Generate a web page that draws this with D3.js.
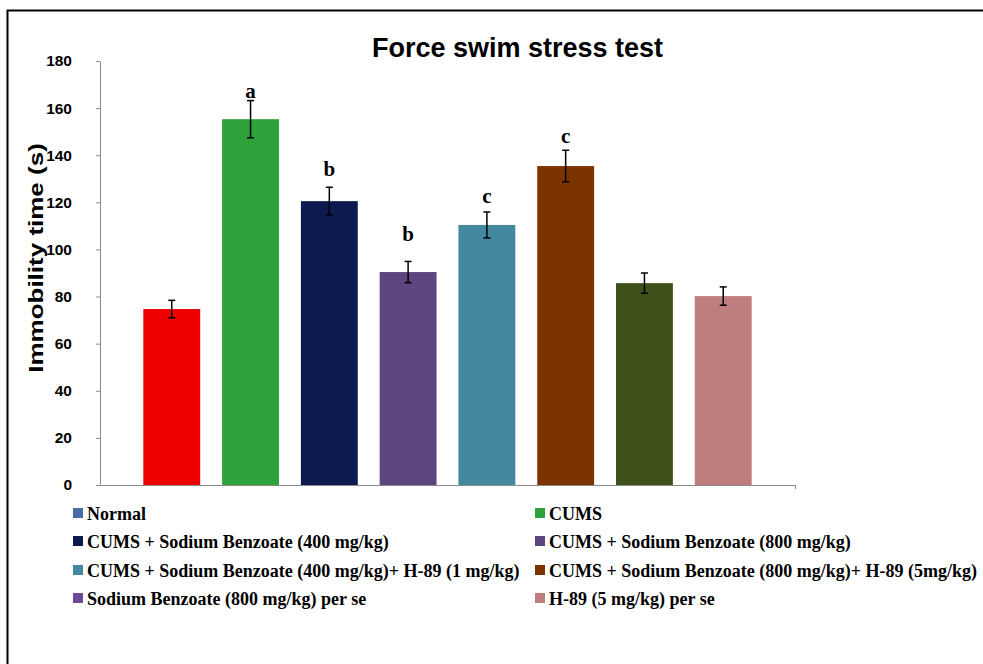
<!DOCTYPE html>
<html>
<head>
<meta charset="utf-8">
<script src="https://cdn.jsdelivr.net/npm/d3@7"></script>
<style>
  html, body { margin: 0; padding: 0; background: #fff; }
  svg { display: block; }
</style>
</head>
<body>
<svg id="chart" width="983" height="664"></svg>
<script>
// Forced swim test: mean immobility time per group, with SEM and significance letters
const groups = [
  "Normal",
  "CUMS",
  "CUMS + Sodium Benzoate (400 mg/kg)",
  "CUMS + Sodium Benzoate (800 mg/kg)",
  "CUMS + Sodium Benzoate (400 mg/kg)+ H-89 (1 mg/kg)",
  "CUMS + Sodium Benzoate (800 mg/kg)+ H-89 (5mg/kg)",
  "Sodium Benzoate (800 mg/kg) per se",
  "H-89 (5 mg/kg) per se"
];
const immobility = [74.7, 155.3, 120.5, 90.4, 110.4, 135.4, 85.7, 80.2];
const sem = [3.7, 7.9, 5.9, 4.5, 5.5, 6.7, 4.3, 3.9];
const sigLetters = ["", "a", "b", "b", "c", "c", "", ""];
// height (in seconds) at which each significance letter sits
const letterAt = [null, 167.5, 134.5, 106.5, 123, 148.5, null, null];
const yTicks = [0, 20, 40, 60, 80, 100, 120, 140, 160, 180];

const barColors = ["#ee0000", "#30a23c", "#0d1a4f", "#5d467e", "#4488a0", "#7b3300", "#3e511b", "#bf7e7e"];
const legendColors = ["#4a6ca6", "#30a23c", "#0d1a4f", "#5d467e", "#4488a0", "#7b3300", "#6a4a98", "#bf7e7e"];

const svg = d3.select("#chart");

// outer frame
svg.append("path")
  .attr("d", "M7.5,670 V10.5 H990")
  .attr("fill", "none")
  .attr("stroke", "#000")
  .attr("stroke-width", 2);

const y = d3.scaleLinear().domain([0, 180]).range([485, 61]);
const x = d3.scaleBand().domain(groups).range([100, 795]).paddingInner(0.278).paddingOuter(0.55);

// y axis
const yAxis = svg.append("g")
  .attr("transform", "translate(100,0)")
  .call(d3.axisLeft(y).tickValues(yTicks).tickSize(4).tickSizeOuter(0).tickPadding(24));
yAxis.select(".domain").attr("stroke", "#8a8a8a");
yAxis.selectAll(".tick line").attr("stroke", "#8a8a8a");
yAxis.selectAll(".tick text")
  .attr("font-family", "'Liberation Sans', Arial, sans-serif")
  .attr("font-weight", "bold")
  .attr("font-size", "15.5px")
  .attr("fill", "#000");

// x axis baseline with the closing tick at the right end
const xEdge = d3.scaleLinear().domain([0, 1]).range([100, 795]);
const xAxis = svg.append("g")
  .attr("transform", "translate(0,485)")
  .call(d3.axisBottom(xEdge).tickValues([1]).tickSize(4).tickSizeOuter(0).tickFormat(""));
xAxis.select(".domain").attr("stroke", "#8a8a8a");
xAxis.selectAll(".tick line").attr("stroke", "#8a8a8a");

// bars
svg.append("g").selectAll("rect")
  .data(groups)
  .join("rect")
  .attr("x", d => x(d))
  .attr("width", x.bandwidth())
  .attr("y", (d, i) => y(immobility[i]))
  .attr("height", (d, i) => y(0) - y(immobility[i]))
  .attr("fill", (d, i) => barColors[i]);

// error bars
const err = svg.append("g").attr("stroke", "#000").attr("stroke-width", 1.5).attr("fill", "none");
groups.forEach((g, i) => {
  const cx = x(g) + x.bandwidth() / 2;
  const hi = y(immobility[i] + sem[i]);
  const lo = y(immobility[i] - sem[i]);
  err.append("line").attr("x1", cx).attr("x2", cx).attr("y1", hi).attr("y2", lo);
  err.append("line").attr("x1", cx - 3.5).attr("x2", cx + 3.5).attr("y1", hi).attr("y2", hi);
  err.append("line").attr("x1", cx - 3.5).attr("x2", cx + 3.5).attr("y1", lo).attr("y2", lo);
});

// significance letters
svg.append("g").selectAll("text")
  .data(groups.filter((g, i) => sigLetters[i]))
  .join("text")
  .attr("x", d => x(d) + x.bandwidth() / 2)
  .attr("y", d => y(letterAt[groups.indexOf(d)]))
  .attr("dy", "0.35em")
  .attr("text-anchor", "middle")
  .attr("font-family", "'Liberation Serif', 'Times New Roman', serif")
  .attr("font-weight", "bold")
  .attr("font-size", "21px")
  .text(d => sigLetters[groups.indexOf(d)]);

// title
svg.append("text")
  .attr("x", 517.5)
  .attr("y", 57)
  .attr("text-anchor", "middle")
  .attr("font-family", "'Liberation Sans', Arial, sans-serif")
  .attr("font-weight", "bold")
  .attr("font-size", "27px")
  .text("Force swim stress test");

// y axis title (drawn tall and narrow)
svg.append("text")
  .attr("transform", "translate(43,258) rotate(-90) scale(1.3,1)")
  .attr("text-anchor", "middle")
  .attr("font-family", "'Liberation Sans', Arial, sans-serif")
  .attr("font-weight", "bold")
  .attr("font-size", "20px")
  .text("Immobility time (s)");

// legend: two columns, four rows
const legendCols = [73, 535];
const legendRows = [520, 548, 577, 605];
const legend = svg.append("g");
groups.forEach((g, i) => {
  const lx = legendCols[i % 2];
  const ly = legendRows[Math.floor(i / 2)];
  legend.append("rect")
    .attr("x", lx).attr("y", ly - 12)
    .attr("width", 10).attr("height", 10)
    .attr("fill", legendColors[i]);
  legend.append("text")
    .attr("x", lx + 14)
    .attr("y", ly)
    .attr("font-family", "'Liberation Serif', 'Times New Roman', serif")
    .attr("font-weight", "bold")
    .attr("font-size", "18px")
    .text(g);
});
</script>
</body>
</html>
